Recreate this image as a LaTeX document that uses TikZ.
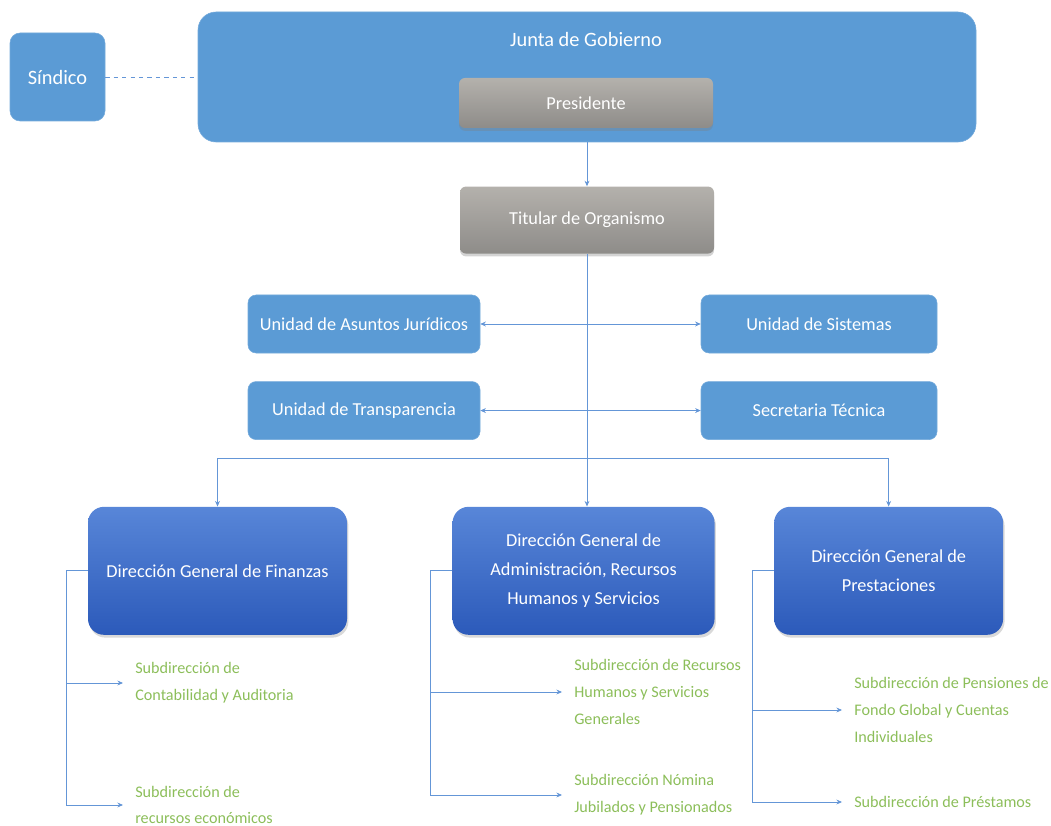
\documentclass[tikz,border=0pt]{standalone}
\usepackage{fontspec}
\setmainfont{Carlito}
\usetikzlibrary{arrows.meta, positioning, shadows}

\definecolor{officeblue}{RGB}{91,155,213}
\definecolor{linkblue}{RGB}{100,150,215}
\definecolor{dirtop}{RGB}{88,134,216}
\definecolor{dirbottom}{RGB}{44,90,186}
\definecolor{graytop}{RGB}{180,177,172}
\definecolor{graybottom}{RGB}{142,140,137}
\definecolor{subgreen}{RGB}{140,190,90}

\begin{document}
\begin{tikzpicture}[
    every node/.style={font=\fontsize{13}{20.5}\selectfont, text=white},
    bluebox/.style = {fill=officeblue, draw=officeblue!85!white, rounded corners=0.2cm},
    unitbox/.style = {bluebox, minimum height=1.45cm},
    graybox/.style = {top color=graytop, bottom color=graybottom, rounded corners=0.15cm, minimum width=6.35cm,
                      drop shadow={opacity=0.35, shadow xshift=0pt, shadow yshift=-2pt}},
    dirbox/.style = {top color=dirtop, bottom color=dirbottom, rounded corners=0.4cm, minimum height=3.2cm, align=center,
                     drop shadow={opacity=0.3, shadow xshift=1pt, shadow yshift=-2pt}},
    sub/.style = {anchor=west, align=left, text=subgreen, inner xsep=0.3cm, font=\fontsize{11.5}{19}\selectfont},
    arrow/.style = {-{Stealth[length=4pt, width=3.5pt]}, draw=linkblue, line width=0.6pt},
    twoway/.style = {{Stealth[length=4pt, width=3.5pt]}-{Stealth[length=4pt, width=3.5pt]}, draw=linkblue, line width=0.6pt}
  ]
  \useasboundingbox (0,0) rectangle (26.275,-20.65);

  % Top: board and syndic
  \node[bluebox, minimum width=2.375cm, minimum height=2.2cm, rounded corners=0.25cm, font=\fontsize{14.5}{17}\selectfont] (sindico) at (1.4375,-1.925) {Síndico};
  \node[bluebox, minimum width=19.45cm, minimum height=3.25cm, rounded corners=0.45cm] (junta) at (14.675,-1.925) {};
  \node[font=\fontsize{14.5}{17}\selectfont] (juntatitulo) at (14.65,-1.0) {Junta de Gobierno};
  \node[graybox, minimum height=1.25cm] (presidente) at (14.65,-2.575) {Presidente};

  % Head of the body
  \node[graybox, minimum height=1.675cm, below=1.1cm of junta] (titular) {Titular de Organismo};

  % Units
  \node[unitbox, minimum width=5.8cm] (juridicos) at (9.1,-8.1) {Unidad de Asuntos Jurídicos};
  \node[unitbox, minimum width=5.9cm] (sistemas) at (20.475,-8.1) {Unidad de Sistemas};
  \node[unitbox, minimum width=5.8cm, below=0.7cm of juridicos] (transparencia) {Unidad de Transparencia};
  \node[unitbox, minimum width=5.9cm, below=0.7cm of sistemas] (secretaria) {Secretaria Técnica};

  % General directions
  \node[dirbox, minimum width=6.475cm] (finanzas) at (5.4375,-14.27) {Dirección General de Finanzas};
  \node[dirbox, minimum width=6.55cm, right=2.625cm of finanzas] (admin) {Dirección General de\\Administración, Recursos\\Humanos y Servicios};
  \node[dirbox, minimum width=5.725cm, right=1.475cm of admin] (prestaciones) {Dirección General de\\Prestaciones};

  % Sub-directions
  \node[sub] (contab) at (3.075,-17.075) {Subdirección de\\Contabilidad y Auditoria};
  \node[sub] (recursos) at (3.075,-20.125) {Subdirección de\\recursos económicos};
  \node[sub] (rhumanos) at (14.05,-17.3) {Subdirección de Recursos\\Humanos y Servicios\\Generales};
  \node[sub] (nomina) at (14.05,-19.875) {Subdirección Nómina\\Jubilados y Pensionados};
  \node[sub] (pensiones) at (21.05,-17.75) {Subdirección de Pensiones de\\Fondo Global y Cuentas\\Individuales};
  \node[sub] (prestamos) at (21.05,-20.05) {Subdirección de Préstamos};

  % Connectors
  \draw[draw=linkblue, line width=0.6pt, dashed] (sindico) -- (junta);
  \draw[arrow] (junta.south -| titular.north) -- (titular.north);
  \draw[arrow] (titular.south) -- (titular.south |- admin.north);
  \draw[twoway] (juridicos) -- (sistemas);
  \draw[twoway] (transparencia) -- (secretaria);

  \coordinate (bus) at (titular.south |- 0,-11.45);
  \draw[arrow] (bus) -| (finanzas.north);
  \draw[arrow] (bus) -| (prestaciones.north);

  \draw[arrow] (finanzas.west) -- ++(-0.525,0) |- (contab.west);
  \draw[arrow] (finanzas.west) -- ++(-0.525,0) |- (recursos.west);
  \draw[arrow] (admin.west) -- ++(-0.55,0) |- (rhumanos.west);
  \draw[arrow] (admin.west) -- ++(-0.55,0) |- (nomina.west);
  \draw[arrow] (prestaciones.west) -- ++(-0.525,0) |- (pensiones.west);
  \draw[arrow] (prestaciones.west) -- ++(-0.525,0) |- (prestamos.west);

\end{tikzpicture}
\end{document}
